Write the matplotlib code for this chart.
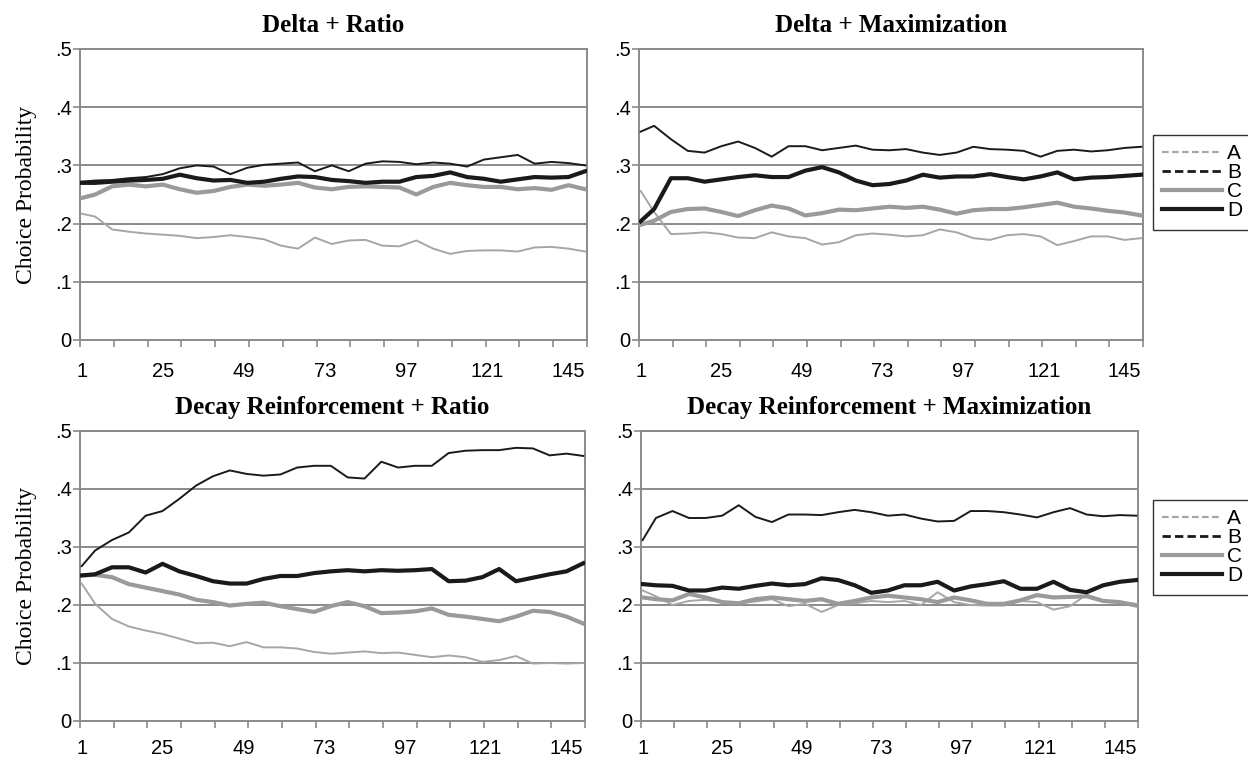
import matplotlib
matplotlib.use("Agg")
import matplotlib.pyplot as plt
from matplotlib.lines import Line2D

trials = [1, 5, 10, 15, 20, 25, 30, 35, 40, 45, 50, 55, 60, 65, 70, 75,
          80, 85, 90, 95, 100, 105, 110, 115, 120, 125, 130, 135, 140, 145, 150]

xtick_labels = [1, 25, 49, 73, 97, 121, 145]
ytick_values = [0, 0.1, 0.2, 0.3, 0.4, 0.5]
ytick_labels = ["0", ".1", ".2", ".3", ".4", ".5"]
series_names = ["A", "B", "C", "D"]

titles = ["Delta + Ratio", "Delta + Maximization",
          "Decay Reinforcement + Ratio", "Decay Reinforcement + Maximization"]

# Delta + Ratio
dr_a = [.217, .212, .19, .186, .183, .181, .179, .175, .177, .18, .177, .173, .162, .157, .176, .165,
        .171, .172, .162, .161, .171, .157, .148, .153, .154, .154, .152, .159, .16, .157, .152]
dr_b = [.272, .274, .275, .278, .28, .285, .295, .30, .298, .285, .296, .301, .303, .305, .29, .30,
        .29, .303, .307, .306, .302, .305, .303, .298, .31, .314, .318, .303, .306, .304, .30]
dr_c = [.244, .25, .264, .267, .264, .267, .259, .253, .256, .263, .267, .265, .267, .27, .262, .259,
        .263, .264, .263, .262, .25, .263, .27, .266, .263, .263, .259, .261, .258, .266, .259]
dr_d = [.27, .27, .272, .274, .275, .277, .284, .278, .274, .275, .27, .272, .277, .281, .28, .275,
        .273, .27, .272, .272, .28, .282, .288, .28, .277, .272, .276, .28, .279, .28, .29]

# Delta + Maximization
dm_a = [.256, .22, .182, .183, .185, .182, .176, .175, .185, .178, .175, .164, .168, .18, .183, .181,
        .178, .18, .19, .185, .175, .172, .18, .182, .178, .163, .17, .178, .178, .172, .175]
dm_b = [.358, .368, .345, .325, .322, .333, .341, .33, .315, .333, .333, .326, .33, .334, .327, .326,
        .328, .322, .318, .322, .332, .328, .327, .325, .315, .325, .327, .324, .326, .33, .332]
dm_c = [.198, .205, .22, .225, .226, .22, .213, .223, .231, .226, .214, .218, .224, .223, .226, .229,
        .227, .229, .224, .217, .223, .225, .225, .228, .232, .236, .229, .226, .222, .219, .214]
dm_d = [.204, .225, .278, .278, .272, .276, .28, .283, .28, .28, .291, .297, .288, .274, .266, .268,
        .274, .284, .279, .281, .281, .285, .28, .276, .281, .288, .276, .279, .28, .282, .284]

# Decay Reinforcement + Ratio
rr_a = [.237, .202, .176, .163, .156, .15, .142, .134, .135, .129, .136, .127, .127, .125, .119, .116,
        .118, .12, .117, .118, .114, .11, .113, .11, .102, .105, .112, .099, .1, .099, .1]
rr_b = [.267, .294, .312, .325, .354, .362, .383, .406, .422, .432, .426, .423, .425, .437, .44, .44,
        .42, .418, .447, .437, .44, .44, .462, .466, .467, .467, .471, .47, .458, .461, .457]
rr_c = [.251, .252, .248, .236, .23, .224, .218, .209, .205, .199, .202, .204, .198, .193, .188, .198,
        .205, .198, .186, .187, .189, .194, .183, .18, .176, .172, .18, .19, .188, .18, .168]
rr_d = [.251, .253, .265, .265, .256, .271, .258, .25, .241, .237, .237, .245, .25, .25, .255, .258,
        .26, .258, .26, .259, .26, .262, .241, .242, .248, .262, .241, .247, .253, .258, .272]

# Decay Reinforcement + Maximization
rm_a = [.225, .215, .2, .207, .209, .205, .203, .206, .21, .198, .202, .188, .2, .203, .207, .205,
        .207, .2, .222, .205, .2, .199, .199, .207, .205, .192, .198, .218, .208, .205, .202]
rm_b = [.312, .35, .362, .35, .35, .354, .372, .352, .343, .356, .356, .355, .36, .364, .36, .354,
        .356, .349, .344, .345, .362, .362, .36, .356, .351, .36, .367, .356, .353, .355, .354]
rm_c = [.213, .21, .208, .219, .213, .205, .203, .21, .213, .21, .207, .21, .202, .207, .213, .216,
        .213, .21, .205, .213, .208, .202, .202, .208, .217, .213, .214, .215, .207, .205, .199]
rm_d = [.236, .234, .233, .225, .225, .23, .228, .233, .237, .234, .236, .246, .243, .234, .221, .225,
        .234, .234, .24, .225, .232, .236, .241, .228, .228, .24, .226, .222, .234, .24, .243]

panels = [
    (dr_a, dr_b, dr_c, dr_d),
    (dm_a, dm_b, dm_c, dm_d),
    (rr_a, rr_b, rr_c, rr_d),
    (rm_a, rm_b, rm_c, rm_d),
]

colors = ["#a6a6a6", "#1a1a1a", "#9a9a9a", "#1a1a1a"]
widths = [1.4, 1.4, 3.0, 3.0]
legend_styles = ["--", "--", "-", "-"]
legend_widths = [1.6, 2.0, 3.0, 3.0]

# axes rectangles in pixels: left, right, top, bottom
W, H = 1248, 757
rects = [(80, 587, 49, 340), (639, 1143, 49, 340),
         (80, 585, 431, 721), (641, 1138, 431, 721)]

fig = plt.figure(figsize=(W / 100, H / 100), dpi=100)
grid_color = "#8a8a8a"

for i, (l, r, t, b) in enumerate(rects):
    ax = fig.add_axes([l / W, 1 - b / H, (r - l) / W, (b - t) / H])
    for k, vals in enumerate(panels[i]):
        ax.plot(trials, vals, color=colors[k], lw=widths[k], zorder=3 + k,
                solid_joinstyle="round")
    ax.set_xlim(0.5, 150.5)
    ax.set_ylim(0, 0.5)
    for y in ytick_values[1:]:
        ax.axhline(y, color=grid_color, lw=1.4, zorder=1)
    for s in ax.spines.values():
        s.set_color(grid_color)
        s.set_linewidth(1.4)

    ax.set_yticks(ytick_values)
    ax.set_yticklabels(ytick_labels, fontfamily="Liberation Sans", fontsize=14.5)
    ax.tick_params(axis="y", length=5, width=1.2, color=grid_color, pad=1)

    ax.set_xticks(xtick_labels)
    ax.set_xticklabels([str(v) for v in xtick_labels], fontfamily="Liberation Sans", fontsize=14.5)
    ax.tick_params(axis="x", which="major", length=0, pad=16 if i < 2 else 13)
    ax.set_xticks([0.5 + 10 * k for k in range(16)], minor=True)
    ax.tick_params(axis="x", which="minor", length=5, width=1.2, color=grid_color)

    ax.set_title(titles[i], fontfamily="Liberation Serif", fontweight="bold",
                 fontsize=18, pad=12)
    if i % 2 == 0:
        ax.set_ylabel("Choice Probability", fontfamily="Liberation Serif", fontsize=17)
        ax.yaxis.set_label_coords(-0.085, 0.5)

# legends beside the right-hand panels
handles = [Line2D([0], [0], color=colors[k], lw=legend_widths[k], ls=legend_styles[k],
                  dashes=(3, 1.5) if legend_styles[k] == "--" else (None, None))
           for k in range(4)]
for top in (135, 500):
    leg = fig.legend(handles, series_names, loc="upper left",
                     bbox_to_anchor=(1153 / W, 1 - top / H),
                     prop={"family": "Liberation Sans", "size": 15},
                     frameon=True, fancybox=False, edgecolor="black",
                     handlelength=2.85, handletextpad=0.25, labelspacing=0.0,
                     borderpad=0.45, borderaxespad=0)
    leg.get_frame().set_linewidth(1.0)

fig.savefig("out.png", dpi=100)
